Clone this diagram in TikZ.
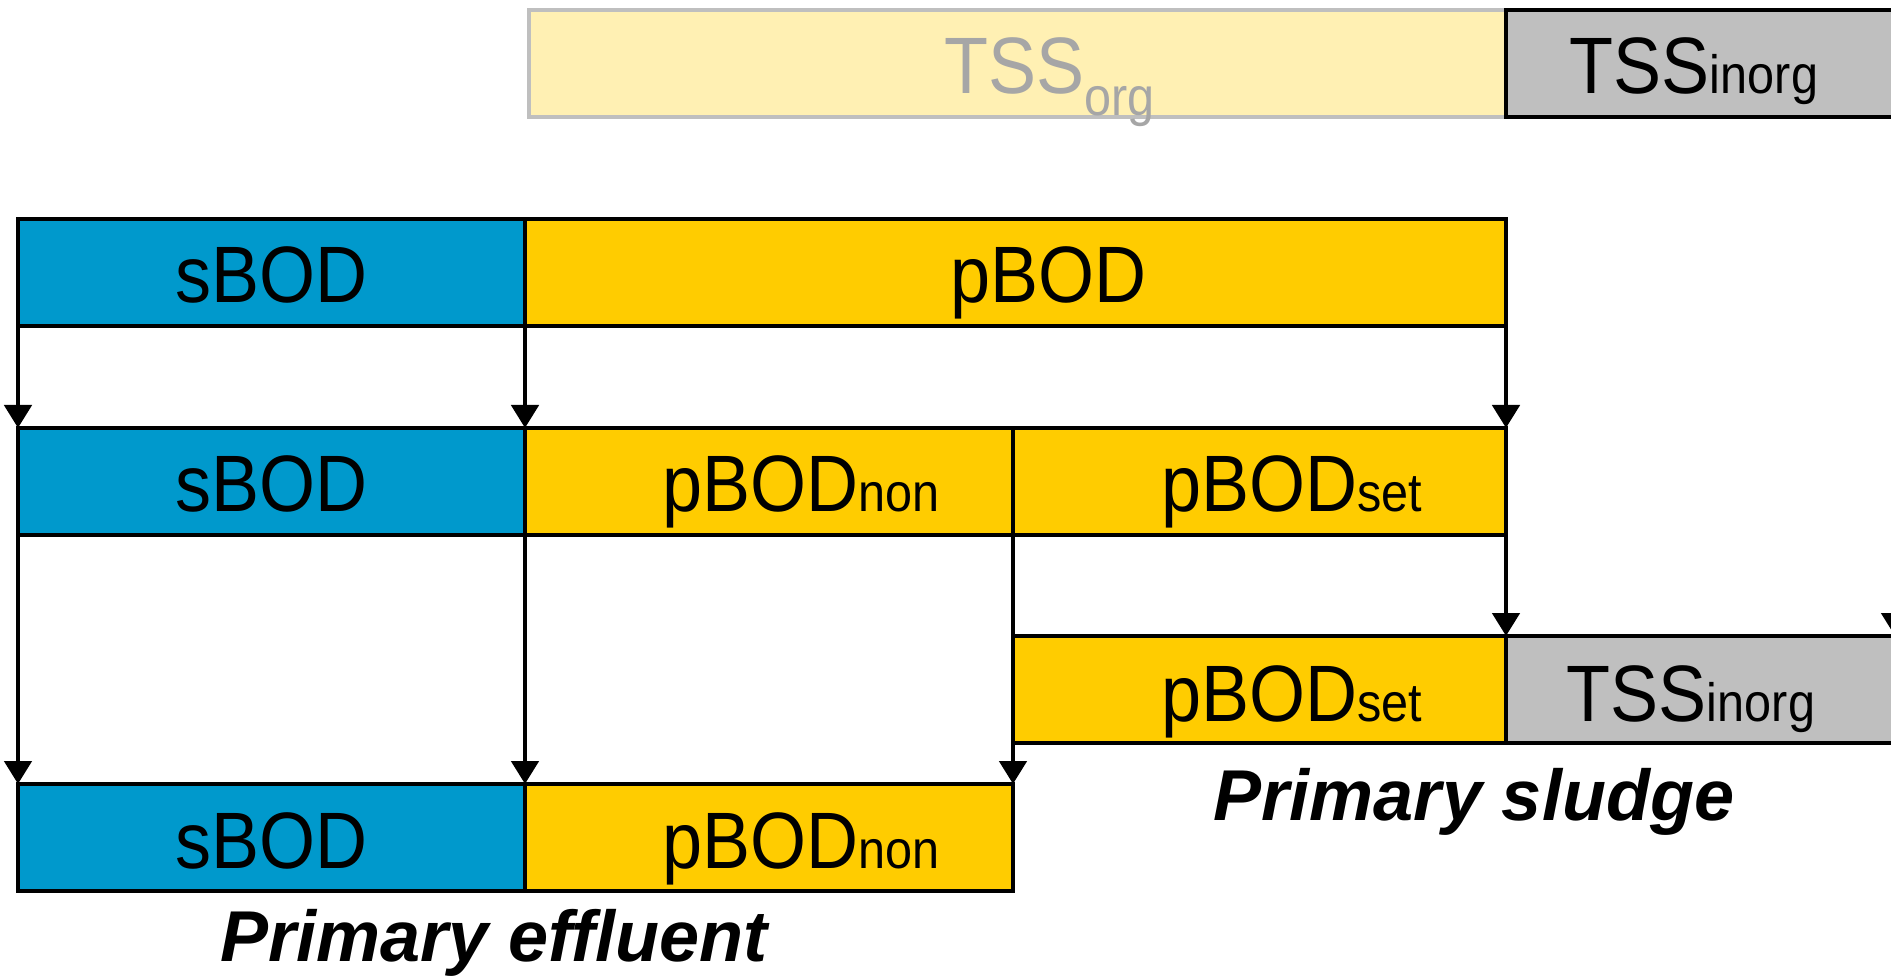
\documentclass[tikz,border=0pt]{standalone}
\usepackage{fontspec}
\setmainfont{Liberation Sans}
\newfontfamily\boxfont{Liberation Sans}[FakeStretch=0.9]
\usetikzlibrary{arrows.meta}
\definecolor{sblue}{RGB}{0,153,204}
\definecolor{pyellow}{RGB}{255,204,0}
\definecolor{igray}{RGB}{191,191,191}
\definecolor{paleyellow}{RGB}{255,240,179}
\definecolor{txtgray}{RGB}{166,166,166}
\newcommand{\subtxt}[1]{{\fontsize{27}{29}\selectfont #1}}
\tikzset{
  bx/.style={draw, line width=2.4pt, rectangle, anchor=north west, inner sep=0, outer sep=0, minimum height=53.5pt},
  txt/.style={anchor=base, inner sep=0, font=\boxfont\fontsize{40}{44}\selectfont},
  lab/.style={anchor=base, inner sep=0, font=\fontsize{36}{40}\selectfont\bfseries\itshape},
  flow/.style={line width=2.4pt, -{Triangle[length=11.5pt,width=13.5pt]}},
}

\begin{document}
\begin{tikzpicture}[x=0.5pt, y=-0.5pt]
\useasboundingbox (0,0) rectangle (1891,978);
% total suspended solids
\node[bx, fill=paleyellow, draw=igray, minimum width=488.5pt] (org) at (529,10) {};
\node[bx, fill=igray, minimum width=207pt] (inorgA) at (1506,10) {};
% influent
\node[bx, fill=sblue, minimum width=253.5pt] (sA) at (18,219) {};
\node[bx, fill=pyellow, minimum width=490.5pt] (pA) at (525,219) {};
% split of the particulate part
\node[bx, fill=sblue, minimum width=253.5pt] (sB) at (18,428) {};
\node[bx, fill=pyellow, minimum width=244pt] (nonB) at (525,428) {};
\node[bx, fill=pyellow, minimum width=246.5pt] (setB) at (1013,428) {};
% sludge
\node[bx, fill=pyellow, minimum width=246.5pt] (setC) at (1013,636) {};
\node[bx, fill=igray, minimum width=207pt] (inorgC) at (1506,636) {};
% effluent
\node[bx, fill=sblue, minimum width=253.5pt] (sD) at (18,784) {};
\node[bx, fill=pyellow, minimum width=244pt] (nonD) at (525,784) {};

\node[txt, text=txtgray] (orgt) at ([xshift=16pt,yshift=-42pt]org.north) {TSS\raisebox{-11pt}{\subtxt{org}}};
\node[txt] (inorgAt) at (1694,94) {TSS\subtxt{inorg}};
\node[txt] (sAt) at ([yshift=-42pt]sA.north) {sBOD};
\node[txt] (pAt) at ([xshift=16.5pt,yshift=-42pt]pA.north) {pBOD};
\node[txt] (sBt) at ([yshift=-42pt]sB.north) {sBOD};
\node[txt] (nonBt) at ([xshift=16pt,yshift=-42pt]nonB.north) {pBOD\subtxt{non}};
\node[txt] (setBt) at ([xshift=16pt,yshift=-42pt]setB.north) {pBOD\subtxt{set}};
\node[txt] (setCt) at ([xshift=16pt,yshift=-42.5pt]setC.north) {pBOD\subtxt{set}};
\node[txt] (inorgCt) at (1691,721) {TSS\subtxt{inorg}};
\node[txt] (sDt) at ([yshift=-42pt]sD.north) {sBOD};
\node[txt] (nonDt) at ([xshift=16pt,yshift=-42pt]nonD.north) {pBOD\subtxt{non}};

\node[lab] (sludge) at (1474,820) {Primary sludge};
\node[lab] (effluent) at (494,961) {Primary effluent};

\draw[flow] (sA.south west) -- (sB.north west);
\draw[flow] (sA.south east) -- (sB.north east);
\draw[flow] (pA.south east) -- (setB.north east);
\draw[flow] (sB.south west) -- (sD.north west);
\draw[flow] (sB.south east) -- (sD.north east);
\draw[flow] (nonB.south east) -- (nonD.north east);
\draw[flow] (setB.south east) -- (setC.north east);
\draw[flow] ([xshift=194.5pt]inorgA.south west) -- ([xshift=194.5pt]inorgC.north west);
\end{tikzpicture}
\end{document}
